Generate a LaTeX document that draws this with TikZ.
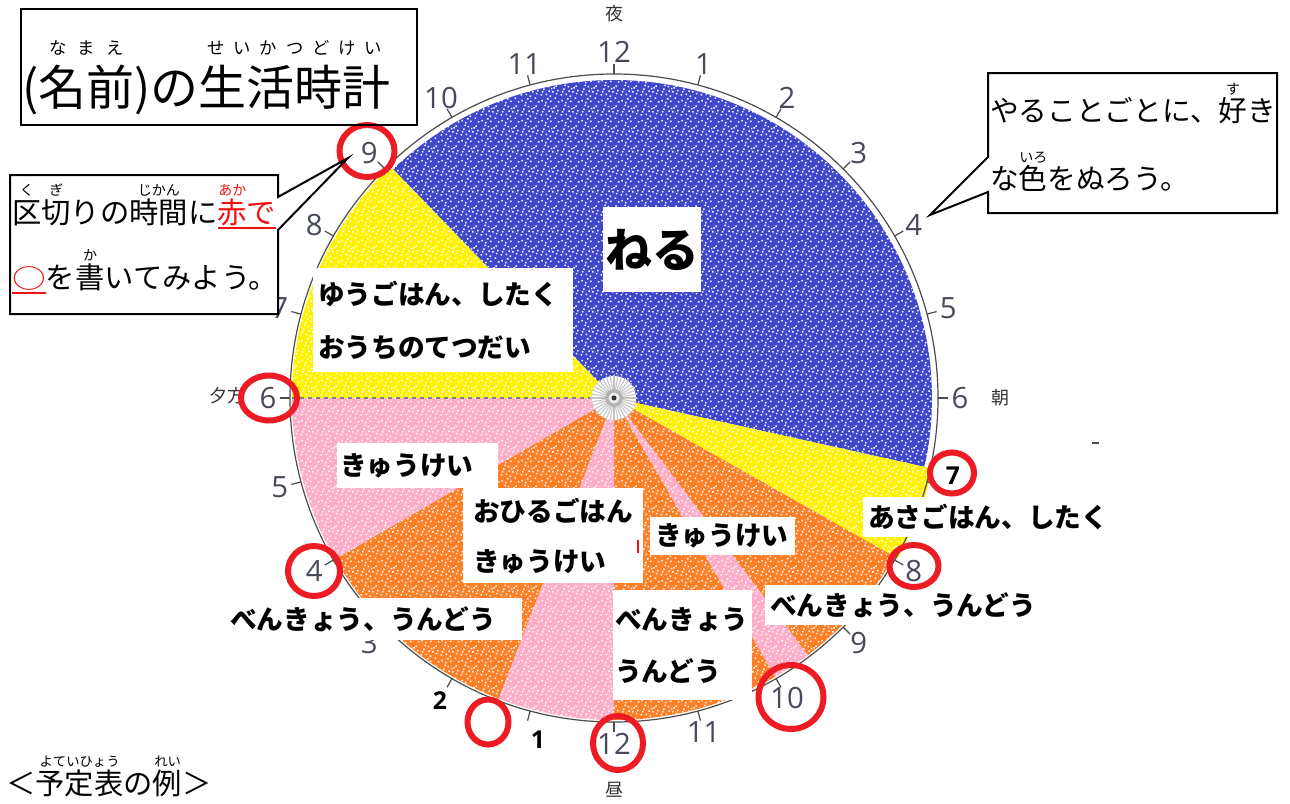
\documentclass[tikz,border=0pt]{standalone}
\usepackage{fontspec}
\usepackage{graphicx}
\usetikzlibrary{patterns}
\setmainfont{Noto Sans CJK JP}
\newfontfamily\jp{Noto Sans CJK JP}
\newfontfamily\numf{Open Sans}
\definecolor{cblue}{HTML}{3F48CC}
\definecolor{cyel}{HTML}{FFF200}
\definecolor{cpink}{HTML}{FFAEC9}
\definecolor{corange}{HTML}{FF7F27}
\definecolor{cred}{HTML}{ED1C24}
\definecolor{numcol}{HTML}{464A5A}
\definecolor{txtred}{HTML}{F01010}
\definecolor{kjcol}{HTML}{333333}
\newsavebox\rbbox
\newsavebox\ulbox
\newcommand\rbr{18pt}
\newcommand{\rb}[3][c]{\leavevmode\sbox\rbbox{#2}\rlap{\raisebox{\rbr}[0pt][0pt]{\makebox[\wd\rbbox][#1]{#3}}}\usebox\rbbox}
\newcommand{\rs}[1]{\fontsize{#1}{#1}\selectfont}
\newcommand{\redul}[1]{\leavevmode\sbox\ulbox{#1}\rlap{\color{txtred}\rule[-4.6pt]{\wd\ulbox}{1.4pt}}\usebox\ulbox}
\pgfdeclarepatternformonly{speckle}{\pgfpointorigin}{\pgfpoint{15pt}{15pt}}{\pgfpoint{15pt}{15pt}}{%
  \foreach \px/\py in {1/2,4.5/7,8/1.5,11.5/4,13.5/10,2.5/11,6/13,9.5/9,12/13.5,0.5/6.5,5.5/3.5,7.5/5.5,10.5/12,3.5/14,14/1,8.5/11.5,1.5/9,12.5/7.5,6.5/9.5,4/0.5}
    {\pgfpathrectangle{\pgfpoint{\px pt}{\py pt}}{\pgfpoint{1.2pt}{1.2pt}}}
  \pgfusepath{fill}}
\tikzset{
  numlab/.style={inner sep=0pt, text=numcol, font=\numf\fontsize{22pt}{22pt}\selectfont},
  bnum/.style={inner sep=0pt, text=black, font=\numf\bfseries\fontsize{18.5pt}{18.5pt}\selectfont},
  kj/.style={inner sep=0pt, text=kjcol, font=\jp\fontsize{13.5pt}{13.5pt}\selectfont},
  lab/.style={fill=white, inner ysep=0pt, anchor=north west, align=left, text=black,
    font=\jp\bfseries\fontsize{20pt}{38pt}\selectfont},
  redc/.style={draw=cred, line width=4.5pt},
  tickc/.style={draw=gray!60!black, line width=0.9pt},
  callout/.style={draw=black, line width=1.5pt, line join=miter},
  cltext/.style={inner sep=0pt, anchor=base west, text=black}
}
\begin{document}
\begin{tikzpicture}[x=0.75pt,y=-0.75pt]
\useasboundingbox (0,0) rectangle (1290,804);
\fill[white] (0,0) rectangle (1290,804);
% ---- clock face ----
\begin{scope}[shift={(614,398)}]
  \fill[cblue] (0,0) -- (-134:318) arc[start angle=-134,end angle=12.5,radius=318] -- cycle;
  \fill[cyel] (0,0) -- (12.5:326) arc[start angle=12.5,end angle=29.5,radius=326] -- cycle;
  \fill[corange] (0,0) -- (29.5:322) arc[start angle=29.5,end angle=53,radius=322] -- cycle;
  \fill[cpink] (0,0) -- (53:322) arc[start angle=53,end angle=60,radius=322] -- cycle;
  \fill[corange] (0,0) -- (60:322) arc[start angle=60,end angle=90,radius=322] -- cycle;
  \fill[cpink] (0,0) -- (90:322) arc[start angle=90,end angle=111,radius=322] -- cycle;
  \fill[corange] (0,0) -- (111:322) arc[start angle=111,end angle=150,radius=322] -- cycle;
  \fill[cpink] (0,0) -- (150:322) arc[start angle=150,end angle=180,radius=322] -- cycle;
  \fill[cyel] (0,0) -- (180:322) arc[start angle=180,end angle=226,radius=322] -- cycle;
  \fill[pattern=speckle, pattern color=white] (0,0) circle[radius=326];
  \draw[gray!60!black, line width=0.9pt] (0,0) circle[radius=324];
  \foreach \h in {0,...,23} \draw[tickc] (15*\h-90:324) -- (15*\h-90:334);
  \draw[gray, dashed, line width=0.8pt] (180:322) -- (180:16);
  % centre mark
  \fill[white] (0,0) circle[radius=22];
  \foreach \a in {0,10,...,350} \draw[gray!45, line width=0.8pt] (\a:9) -- (\a:23);
  \draw[gray!50, line width=0.6pt] (-24,0) -- (24,0) (0,-24) -- (0,24);
  \fill[gray!60] (0,0) circle[radius=9];
  \fill[gray!15] (0,0) circle[radius=5.5];
  \fill[black!80] (0,0) circle[radius=2.5];
  % hour numbers
  \foreach \h/\t in {0/12,1/1,2/2,3/3,4/4,5/5,6/6,8/8,9/9,10/10,11/11,12/12,15/3,16/4,17/5,18/6,19/7,20/8,21/9,22/10,23/11}
    \node[numlab] (h\h) at (15*\h-90:346) {\t};
\end{scope}
\node[bnum] (h7) at (953,476) {7};
\node[bnum] (h14) at (440,701) {2};
\node[bnum] (h13) at (538,740) {1};
\draw[gray!60!black, line width=1pt] (1092,443) -- (1099,443);
% ---- side words ----
\node[kj] (yoru) at (614,14) {夜};
\node[kj] (asa) at (1000,398) {朝};
\node[kj] (hiru) at (614,790) {昼};
\node[kj] (yugata) at (227,396) {夕方};
% ---- activity labels ----
\node[lab, inner xsep=3.75pt, text width=187.5pt, minimum height=78pt, font=\jp\bfseries\fontsize{20pt}{39.75pt}\selectfont] (yuu) at (313,268) {ゆうごはん、したく\\おうちのてつだい};
\node[lab, inner xsep=2.25pt, text width=116.25pt, minimum height=33.75pt] (kyu1) at (337,443) {きゅうけい};
\node[lab, inner xsep=7.5pt, text width=120pt, minimum height=71.25pt, font=\jp\bfseries\fontsize{20pt}{37.5pt}\selectfont] (hiruk) at (463,488) {おひるごはん\\きゅうけい};
\node[lab, inner xsep=3.75pt, text width=101.25pt, minimum height=28.5pt] (kyu2) at (650,517) {きゅうけい};
\node[lab, inner xsep=3.75pt, text width=179.25pt, minimum height=30pt] (asag) at (863,497) {あさごはん、したく};
\node[lab, inner xsep=3.75pt, text width=202.5pt, minimum height=30pt] (ben1) at (765,585) {べんきょう、うんどう};
\node[lab, inner xsep=1.5pt, text width=101.25pt, minimum height=82.5pt, font=\jp\bfseries\fontsize{20pt}{39pt}\selectfont] (ben2) at (613,590) {べんきょう\\うんどう};
\node[lab, inner xsep=3.75pt, text width=215.25pt, minimum height=31.5pt] (ben3) at (225,598) {べんきょう、うんどう};
\node[fill=white, inner sep=0pt, anchor=north west, minimum width=73.5pt, minimum height=63.75pt, font=\jp\bfseries\fontsize{35pt}{35pt}\selectfont] (neru) at (603,207) {ねる};
\draw[txtred, line width=1pt] (638,540) -- (638,553);
% ---- callout fills ----
\fill[white] (278,197) -- (348,158) -- (278,230) -- (278,314) -- (10,314) -- (10,175) -- (278,175) -- cycle;
\fill[white] (988,157) -- (930,215) -- (988,192) -- (988,213) -- (1277,213) -- (1277,73) -- (988,73) -- cycle;
% ---- red circles ----
\draw[redc] (367,151) ellipse[x radius=27.5, y radius=26];
\draw[redc] (269,398) ellipse[x radius=28, y radius=22.5];
\draw[redc] (314,571) ellipse[x radius=26, y radius=25];
\draw[redc] (488,722) ellipse[x radius=20.5, y radius=22.5];
\draw[redc] (618,743) ellipse[x radius=25, y radius=27];
\draw[redc] (791,697) ellipse[x radius=32.5, y radius=32];
\draw[redc] (914,566) ellipse[x radius=24.5, y radius=21];
\draw[redc] (952,473) ellipse[x radius=22, y radius=20.5];
% ---- callout outlines ----
\draw[callout] (278,197) -- (348,158) -- (278,230) -- (278,314) -- (10,314) -- (10,175) -- (278,175) -- cycle;
\draw[callout] (988,157) -- (930,215) -- (988,192) -- (988,213) -- (1277,213) -- (1277,73) -- (988,73) -- cycle;
\node[cltext, font=\jp\fontsize{22pt}{22pt}\selectfont\def\rbr{20.5pt}] (cl1) at (12,223)
  {\rb{区}{\rs{10.5}く}\rb{切}{\rs{10.5}ぎ}りの\rb{時間}{\rs{10.5}じかん}に\redul{\textcolor{txtred}{\rb{赤}{\rs{10.5}あか}で}}};
\node[cltext, font=\jp\fontsize{22pt}{22pt}\selectfont\def\rbr{20.5pt}] (cl2) at (12,288)
  {\redul{\textcolor{txtred}{\scalebox{1.15}[0.9]{○}}}を\rb{書}{\rs{10.5}か}いてみよう。};
\node[cltext, font=\jp\fontsize{21.5pt}{21.5pt}\selectfont\def\rbr{20pt}] (cr1) at (990,121)
  {やることごとに、\rb{好}{\rs{10.5}す}き};
\node[cltext, font=\jp\fontsize{21.5pt}{21.5pt}\selectfont\def\rbr{20pt}] (cr2) at (990,189)
  {な\rb{色}{\rs{10.5}いろ}をぬろう。};
% ---- title ----
\node[draw=black, line width=1.5pt, anchor=north west, inner sep=0pt, minimum width=297pt, minimum height=87pt] (titlebox) at (20,8) {};
\node[cltext, font=\jp\fontsize{36pt}{36pt}\selectfont\def\rbr{38pt}] (title) at (22,105)
  {(\rb[s]{名前}{\rs{13}\hfil な\hfil ま\hfil え\hfil})の\rb[s]{生活時計}{\rs{13}\hfil せ\hfil い\hfil か\hfil つ\hfil ど\hfil け\hfil い\hfil}};
% ---- footer ----
\node[cltext, font=\jp\fontsize{22pt}{22pt}\selectfont\def\rbr{20.5pt}] (foot) at (6,794)
  {＜\rb{予定表}{\rs{10}よていひょう}の\rb{例}{\rs{10}れい}＞};
\end{tikzpicture}
\end{document}
